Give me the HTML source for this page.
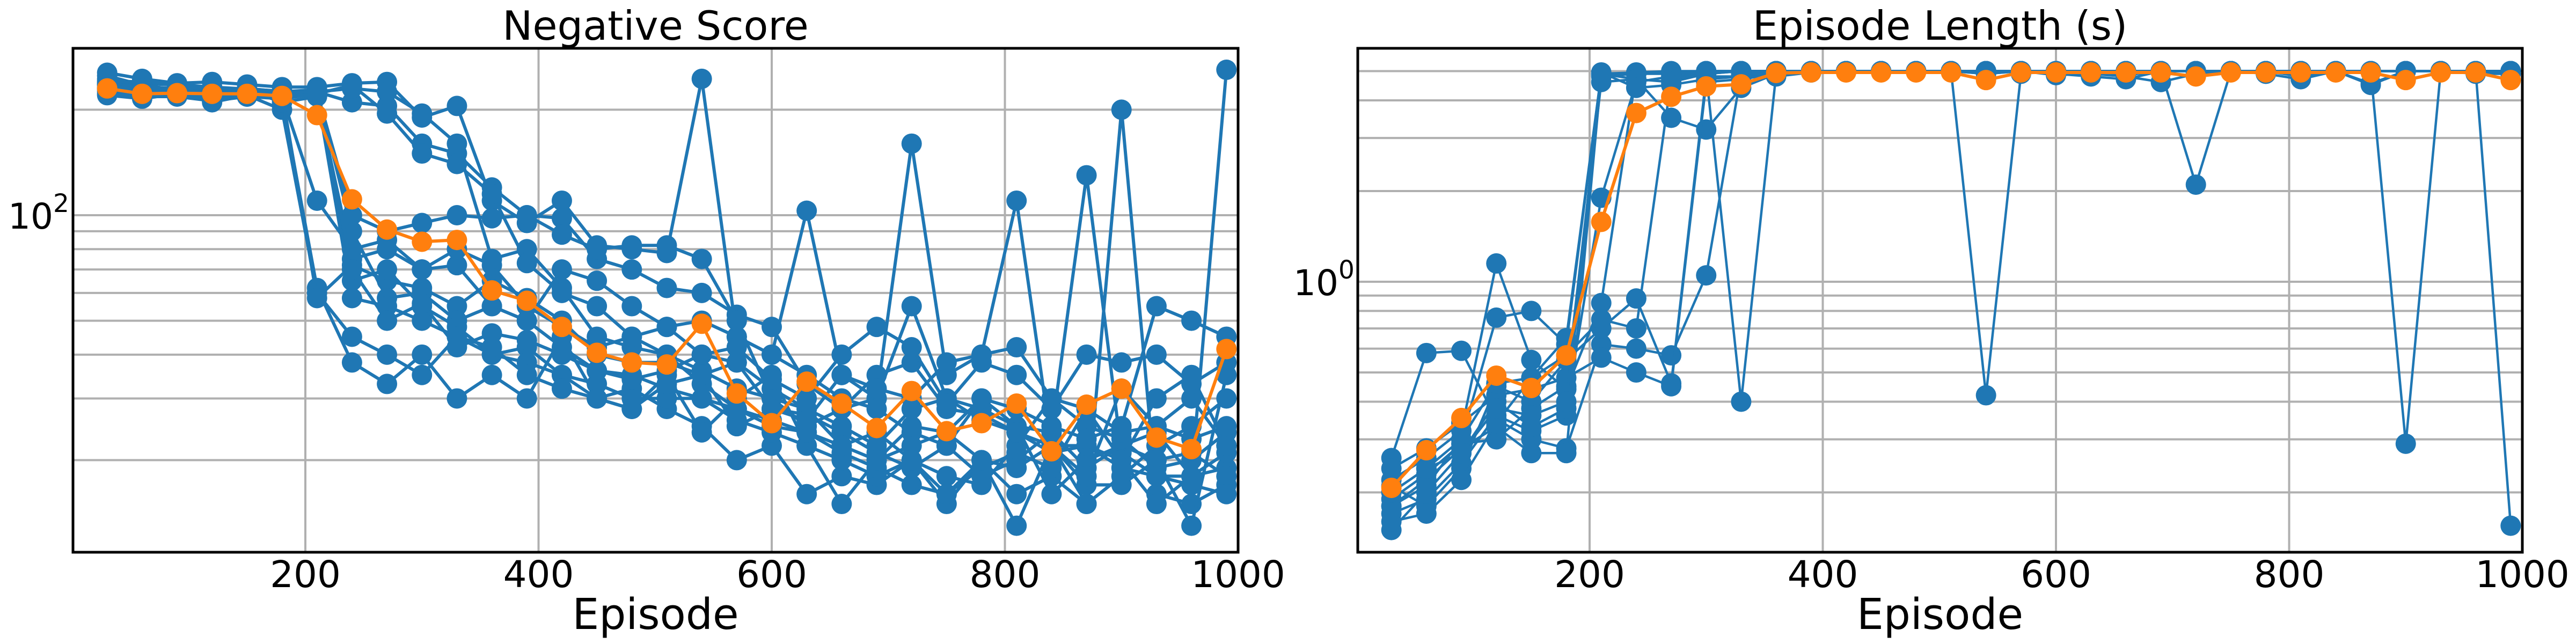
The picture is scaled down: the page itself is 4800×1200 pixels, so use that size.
<!DOCTYPE html>
<html><head><meta charset="utf-8">
<style>
html,body{margin:0;padding:0;background:#fff;}
svg{display:block;}
text{font-family:"DejaVu Sans","Liberation Sans",sans-serif;fill:#000;}
</style></head>
<body>
<svg id="chart" width="4800" height="1200" viewBox="0 0 4800 1200" xmlns="http://www.w3.org/2000/svg"></svg>
<script>
const episodes = [30,60,90,120,150,180,210,240,270,300,330,360,390,420,450,480,510,540,570,600,630,660,690,720,750,780,810,840,870,900,930,960,990];
const xTicks = [200,400,600,800,1000];

const scoreRuns = [
[255,245,238,240,236,232,232,238,240,190,205,110,95,110,82,80,78,245,45,40,103,35,30,55,30,28,25,24,19,22,24,18,260],
[235,228,230,215,222,220,225,210,205,160,150,120,100,98,75,70,62,60,52,48,33,28,30,160,35,40,110,22,22,20,30,35,22],
[225,222,226,210,220,218,110,80,85,70,72,55,50,70,65,55,48,50,45,40,35,30,28,24,22,18,20,24,130,21,18,18,19],
[220,215,222,218,220,200,60,45,40,35,45,40,42,35,30,32,28,25,20,22,16,18,17,20,15,20,16,18,15,200,16,15,17],
[245,230,225,232,220,215,62,38,33,40,30,35,30,45,30,28,35,24,30,35,22,15,20,22,24,20,13,22,15,18,22,25,30],
[240,238,235,228,226,222,58,72,65,62,55,65,58,50,40,38,38,35,25,28,27,24,21,19,22,30,25,16,20,22,20,13,35],
[230,225,220,220,228,210,218,75,80,70,80,72,55,48,42,45,48,40,38,32,28,22,24,20,18,17,22,30,25,23,19,20,24],
[250,235,228,225,230,225,228,90,58,60,50,55,50,42,36,35,32,30,26,24,22,20,18,20,16,19,21,19,28,20,15,18,21],
[238,232,230,222,225,220,225,230,225,195,160,75,80,62,45,42,40,36,32,30,25,28,35,38,28,27,24,22,17,17,20,21,18],
[228,220,222,215,218,215,222,235,195,150,140,115,73,60,55,45,40,33,28,25,24,21,19,17,16,20,19,22,18,32,25,30,22],
[242,240,236,232,229,226,224,100,90,95,100,98,100,88,80,82,82,75,50,30,28,25,22,28,30,26,24,21,22,19,18,17,16],
[232,230,224,218,224,218,224,65,70,55,48,40,38,35,33,30,30,30,28,26,24,22,20,25,24,30,28,25,23,25,55,50,45],
[222,218,218,212,218,216,222,58,55,50,45,42,35,32,30,28,33,35,38,28,26,35,32,30,38,40,42,30,28,24,25,23,25],
[236,226,232,220,225,222,226,70,50,56,42,46,44,40,36,34,36,40,42,34,30,40,48,42,29,38,35,28,40,38,40,33,38]
];
const scoreMean = [230,222,223,222,222,219,193,111,91,84,85,61,57,48,40.5,38,37.5,49,31,25.5,33.5,29,24.7,31.5,24.2,25.5,29,21.2,28.8,32,23.2,21.5,41.5];

const lengthRuns = [
[0.20,0.24,0.30,0.76,0.80,0.62,4.9,4.95,5.0,5.0,5.0,5.0,5.0,5.0,5.0,5.0,5.0,4.9,5.0,5.0,5.0,5.0,5.0,5.0,5.0,5.0,5.0,5.0,5.0,5.0,5.0,5.0,5.0],
[0.26,0.58,0.59,0.35,0.30,0.28,0.62,0.60,0.57,1.05,4.9,5.0,5.0,5.0,5.0,5.0,5.0,0.42,4.9,5.0,5.0,5.0,5.0,5.0,5.0,5.0,5.0,5.0,5.0,5.0,5.0,5.0,5.0],
[0.22,0.26,0.32,1.15,0.55,0.44,0.85,4.9,4.95,5.0,5.0,5.0,5.0,5.0,5.0,5.0,5.0,5.0,5.0,5.0,5.0,5.0,5.0,2.1,5.0,5.0,5.0,5.0,5.0,5.0,5.0,5.0,5.0],
[0.18,0.22,0.28,0.33,0.27,0.27,4.85,4.9,4.9,4.95,5.0,5.0,5.0,5.0,5.0,5.0,5.0,5.0,5.0,5.0,5.0,5.0,5.0,5.0,5.0,5.0,5.0,5.0,5.0,0.29,5.0,5.0,5.0],
[0.17,0.19,0.25,0.36,0.32,0.36,4.8,4.9,4.95,5.0,5.0,5.0,5.0,5.0,5.0,5.0,5.0,5.0,5.0,5.0,5.0,5.0,5.0,5.0,5.0,5.0,5.0,5.0,5.0,5.0,5.0,5.0,0.155],
[0.15,0.20,0.27,0.40,0.33,0.38,1.9,4.6,4.8,4.9,0.40,4.9,5.0,5.0,5.0,5.0,5.0,5.0,5.0,5.0,5.0,5.0,5.0,5.0,5.0,5.0,5.0,5.0,5.0,5.0,5.0,5.0,5.0],
[0.19,0.23,0.29,0.30,0.38,0.45,4.6,4.7,3.5,3.2,4.4,4.9,5.0,5.0,5.0,5.0,5.0,5.0,5.0,4.85,4.9,4.8,4.6,4.9,5.0,4.9,4.7,5.0,4.5,5.0,5.0,4.9,4.9],
[0.21,0.18,0.24,0.45,0.40,0.55,0.70,0.88,0.46,4.8,4.8,4.95,5.0,5.0,5.0,5.0,5.0,5.0,5.0,5.0,5.0,5.0,5.0,5.0,5.0,5.0,5.0,5.0,5.0,5.0,5.0,5.0,5.0],
[0.24,0.28,0.34,0.42,0.44,0.48,0.56,0.50,0.45,4.6,4.7,4.9,4.95,5.0,5.0,5.0,5.0,5.0,5.0,5.0,5.0,5.0,5.0,5.0,5.0,5.0,5.0,5.0,5.0,5.0,5.0,5.0,5.0],
[0.18,0.21,0.30,0.46,0.48,0.57,0.75,0.70,4.7,4.9,5.0,5.0,5.0,5.0,5.0,5.0,5.0,5.0,5.0,4.9,4.8,4.7,5.0,5.0,5.0,5.0,5.0,5.0,5.0,5.0,5.0,5.0,5.0],
[0.16,0.17,0.22,0.34,0.48,0.65,4.9,4.7,4.6,4.9,5.0,5.0,5.0,5.0,5.0,5.0,5.0,5.0,5.0,5.0,5.0,5.0,5.0,5.0,5.0,5.0,4.8,5.0,5.0,5.0,5.0,5.0,5.0],
[0.20,0.24,0.27,0.38,0.36,0.40,4.95,4.4,4.5,4.7,4.8,4.8,4.95,5.0,5.0,5.0,5.0,4.9,5.0,5.0,5.0,4.85,5.0,5.0,5.0,5.0,5.0,5.0,4.55,5.0,5.0,5.0,4.9]
];
const lengthMean = [0.207,0.276,0.353,0.488,0.444,0.57,1.58,3.63,4.11,4.45,4.52,4.93,4.95,4.95,4.95,4.95,4.95,4.67,4.95,4.95,4.95,4.95,4.95,4.8,4.95,4.95,4.95,4.95,4.95,4.67,4.95,4.95,4.67];

const NS = "http://www.w3.org/2000/svg";
const svg = document.getElementById('chart');
function mk(tag, attrs, parent){
  const e = document.createElementNS(NS, tag);
  for (const k in attrs) e.setAttribute(k, attrs[k]);
  (parent||svg).appendChild(e);
  return e;
}

function drawPanel(cfg){
  const g = mk('g', {});
  
  
  const xS = v => cfg.x0 + v * cfg.xPer;
  const yS = v => cfg.yRef - (Math.log10(v) - cfg.refLog) * cfg.decade;
  const clipId = cfg.name + '-clip';
  const defs = mk('defs', {}, g);
  const cp = mk('clipPath', {id: clipId}, defs);
  mk('rect', {x: cfg.left, y: cfg.top, width: cfg.right - cfg.left, height: cfg.bottom - cfg.top}, cp);

  const grid = mk('g', {'clip-path': 'url(#' + clipId + ')'}, g);
  
  
  xTicks.forEach(t => {
    const l = mk('line', {x1: xS(t), x2: xS(t), y1: cfg.top, y2: cfg.bottom, stroke: '#b0b0b0', 'stroke-width': 4}, grid);
    
    
  });
  cfg.hGrid.forEach(v => {
    const l = mk('line', {x1: cfg.left, x2: cfg.right, y1: yS(v), y2: yS(v), stroke: '#b0b0b0', 'stroke-width': 4}, grid);
    
    
  });

  const plot = mk('g', {'clip-path': 'url(#' + clipId + ')'}, g);
  cfg.runs.forEach((run, i) => {
    const sg = mk('g', {}, plot);
    
    
    const pts = run.map((v, j) => xS(episodes[j]).toFixed(1) + ',' + yS(v).toFixed(1)).join(' ');
    mk('polyline', {points: pts, fill: 'none', stroke: '#1f77b4', 'stroke-width': cfg.lw, 'stroke-linejoin': 'round'}, sg);
    run.forEach((v, j) => {
      const c = mk('circle', {cx: xS(episodes[j]), cy: yS(v), r: 19, fill: '#1f77b4'}, sg);
      
      
    });
  });
  const mg = mk('g', {}, plot);
  
  
  const mpts = cfg.mean.map((v, j) => xS(episodes[j]).toFixed(1) + ',' + yS(v).toFixed(1)).join(' ');
  mk('polyline', {points: mpts, fill: 'none', stroke: '#ff7f0e', 'stroke-width': 6, 'stroke-linejoin': 'round'}, mg);
  cfg.mean.forEach((v, j) => {
    const c = mk('circle', {cx: xS(episodes[j]), cy: yS(v), r: 19, fill: '#ff7f0e'}, mg);
    
    
  });

  const fr = mk('rect', {x: cfg.left, y: cfg.top, width: cfg.right - cfg.left, height: cfg.bottom - cfg.top, fill: 'none', stroke: '#000', 'stroke-width': 5}, g);
  
  

  xTicks.forEach(t => {
    const tx = mk('text', {x: xS(t), y: 1094, 'font-size': 69, 'text-anchor': 'middle'}, g);
    tx.textContent = String(t);
    
    
  });
  const yl = mk('text', {x: cfg.yLabX, y: yS(cfg.yLabVal) + 25, 'font-size': 66}, g);
  
  
  yl.appendChild(document.createTextNode('10'));
  const sup = mk('tspan', {dy: -31, 'font-size': 47}, yl);
  sup.textContent = cfg.yExp;

  const ti = mk('text', {x: (cfg.left + cfg.right) / 2, y: 74, 'font-size': 75, 'text-anchor': 'middle'}, g);
  ti.textContent = cfg.title;
  
  
  const xl = mk('text', {x: (cfg.left + cfg.right) / 2, y: 1172, 'font-size': 79, 'text-anchor': 'middle'}, g);
  xl.textContent = 'Episode';
  
  
}

drawPanel({
  name: 'negative-score-panel', title: 'Negative Score',
  left: 136, right: 2307, top: 90, bottom: 1029,
  x0: 134.5, xPer: 2.1725,
  yRef: 401, refLog: 2, decade: 653,
  hGrid: [20,30,40,50,60,70,80,90,100,200],
  runs: scoreRuns, mean: scoreMean, lw: 6,
  yLabX: 15, yLabVal: 100, yExp: '2'
});
drawPanel({
  name: 'episode-length-panel', title: 'Episode Length (s)',
  left: 2530, right: 4700, top: 90, bottom: 1029,
  x0: 2527.5, xPer: 2.1725,
  yRef: 525, refLog: 0, decade: 561.5,
  hGrid: [0.2,0.3,0.4,0.5,0.6,0.7,0.8,0.9,1,2,3,4,5],
  runs: lengthRuns, mean: lengthMean, lw: 4.5,
  yLabX: 2410, yLabVal: 1, yExp: '0'
});
</script>
</body></html>
